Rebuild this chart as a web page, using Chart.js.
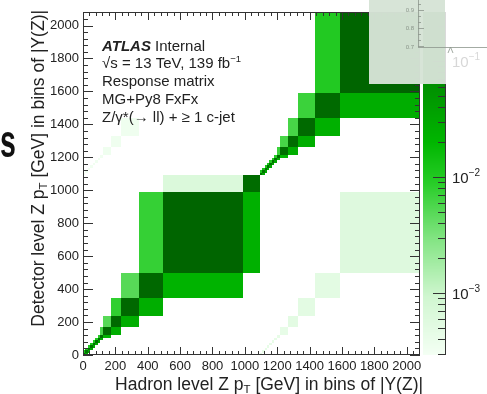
<!DOCTYPE html>
<html>
<head>
<meta charset="utf-8">
<script src="https://cdn.jsdelivr.net/npm/chart.js@4.4.0/dist/chart.umd.min.js"></script>
<style>
  body { margin: 0; background: #fff; }
</style>
</head>
<body>
<canvas id="myChart" width="487" height="394"></canvas>
<script>
var FONT = "'Liberation Sans', Arial, sans-serif";

// pT bin edges, one block per |Y(Z)| bin, laid out along both axes
var binEdges = [0, 15, 30, 45, 60, 75, 90, 105, 122, 172, 237, 344, 496, 990, 1092,
                1107, 1122, 1137, 1152, 1167, 1182, 1197, 1214, 1264, 1329, 1436, 1588, 2082];

// response matrix cells: hadron bin (x), detector bin (y), fraction (z)
var cellX = [
  // diagonal
  0, 1, 2, 3, 4, 5, 6, 7, 8, 9, 10, 11, 12, 13, 14, 15, 16, 17, 18, 19, 20, 21, 22, 23, 24, 25, 26,
  // reco one bin higher
  0, 1, 2, 3, 4, 5, 6, 7, 8, 9, 10, 11, 12, 14, 15, 16, 17, 18, 19, 20, 21, 22, 23, 24, 25,
  // reco one bin lower
  1, 2, 3, 4, 5, 6, 7, 8, 9, 10, 11, 12, 13, 15, 16, 17, 18, 19, 20, 21, 22, 23, 24, 25, 26,
  // migrations between |Y(Z)| bins
  14, 15, 16, 17, 18, 19, 20, 21, 22, 23, 24, 25, 26,
  0, 1, 2, 3, 4, 5, 6, 7, 8, 9, 10
];
var cellY = [
  0, 1, 2, 3, 4, 5, 6, 7, 8, 9, 10, 11, 12, 13, 14, 15, 16, 17, 18, 19, 20, 21, 22, 23, 24, 25, 26,
  1, 2, 3, 4, 5, 6, 7, 8, 9, 10, 11, 12, 13, 15, 16, 17, 18, 19, 20, 21, 22, 23, 24, 25, 26,
  0, 1, 2, 3, 4, 5, 6, 7, 8, 9, 10, 11, 12, 14, 15, 16, 17, 18, 19, 20, 21, 22, 23, 24, 25,
  0, 1, 2, 3, 4, 5, 6, 7, 8, 9, 10, 11, 12,
  14, 15, 16, 17, 18, 19, 20, 21, 22, 23, 24
];
var cellZ = [
  0.14, 0.14, 0.15, 0.15, 0.15, 0.16, 0.16, 0.17, 0.18, 0.19, 0.20, 0.20, 0.22, 0.18,
  0.14, 0.14, 0.15, 0.15, 0.15, 0.16, 0.16, 0.17, 0.17, 0.18, 0.19, 0.19, 0.22,
  0.012, 0.012, 0.011, 0.011, 0.010, 0.010, 0.009, 0.006, 0.005, 0.008, 0.005, 0.0075, 0.00065,
  0.012, 0.012, 0.011, 0.011, 0.010, 0.010, 0.009, 0.007, 0.006, 0.006, 0.007, 0.010,
  0.03, 0.03, 0.03, 0.03, 0.03, 0.03, 0.028, 0.02, 0.025, 0.025, 0.025, 0.022, 0.024,
  0.03, 0.03, 0.03, 0.03, 0.03, 0.03, 0.028, 0.02, 0.025, 0.025, 0.024, 0.026,
  0.00045, 0.00045, 0.00045, 0.00045, 0.00045, 0.00045, 0.00045, 0.00045, 0.00045, 0.0005, 0.0005, 0.0005, 0.0006,
  0.00032, 0.00032, 0.00032, 0.00032, 0.00032, 0.00032, 0.00032, 0.00032, 0.00034, 0.00034, 0.00034
];

var xTickLabels = ['0', '200', '400', '600', '800', '1000', '1200', '1400', '1600', '1800', '2000'];
var zRange = [2.92e-4, 0.264];
var zDecades = [1e-3, 1e-2, 1e-1];
var zDecadeExp = ['-3', '-2', '-1'];

var infoLines = ['Response matrix', 'MG+Py8 FxFx', 'Z/\u03b3*(\u2192 ll) + \u2265 1 c-jet'];

// white -> green -> dark green palette
var palette = [
  [0.00, [244, 255, 244]],
  [0.17, [208, 246, 208]],
  [0.34, [130, 228, 130]],
  [0.50, [40, 205, 40]],
  [0.62, [0, 182, 0]],
  [0.80, [0, 140, 0]],
  [1.00, [0, 95, 0]]
];

function zColor(v) {
  var lo = Math.log10(zRange[0]), hi = Math.log10(zRange[1]);
  var t = (Math.log10(v) - lo) / (hi - lo);
  t = Math.max(0, Math.min(1, t));
  for (var i = 1; i < palette.length; i++) {
    if (t <= palette[i][0]) {
      var a = palette[i - 1], b = palette[i];
      var f = (t - a[0]) / (b[0] - a[0]);
      var c = [0, 1, 2].map(function (k) { return Math.round(a[1][k] + f * (b[1][k] - a[1][k])); });
      return 'rgb(' + c.join(',') + ')';
    }
  }
  return 'rgb(0,95,0)';
}

// draw text made of pieces (for sub/superscripts)
function richText(ctx, parts, x, y, align) {
  var total = 0;
  parts.forEach(function (p) {
    ctx.font = (p[3] || '') + ' ' + p[1] + 'px ' + FONT;
    total += ctx.measureText(p[0]).width;
  });
  var cx = align === 'right' ? x - total : x;
  parts.forEach(function (p) {
    ctx.font = (p[3] || '') + ' ' + p[1] + 'px ' + FONT;
    ctx.fillText(p[0], cx, y + (p[2] || 0));
    cx += ctx.measureText(p[0]).width;
  });
}

var matrixPlugin = {
  id: 'matrix',
  beforeDatasetsDraw: function (chart) {
    var ctx = chart.ctx, xs = chart.scales.x, ys = chart.scales.y;
    ctx.save();
    for (var k = 0; k < cellZ.length; k++) {
      var x0 = Math.round(xs.getPixelForValue(binEdges[cellX[k]]));
      var x1 = Math.round(xs.getPixelForValue(binEdges[cellX[k] + 1]));
      var y0 = Math.round(ys.getPixelForValue(binEdges[cellY[k] + 1]));
      var y1 = Math.round(ys.getPixelForValue(binEdges[cellY[k]]));
      ctx.fillStyle = zColor(cellZ[k]);
      ctx.fillRect(x0, y0, x1 - x0, y1 - y0);
    }
    ctx.restore();
  },
  afterDraw: function (chart) {
    var ctx = chart.ctx, a = chart.chartArea;
    var xs = chart.scales.x, ys = chart.scales.y, zs = chart.scales.z;
    ctx.save();

    // frame and inward ticks
    ctx.strokeStyle = '#333';
    ctx.lineWidth = 1;
    ctx.strokeRect(a.left + 0.5, a.top + 0.5, a.right - a.left - 1, a.bottom - a.top - 1);
    ctx.beginPath();
    xs.ticks.forEach(function (t) {
      if (t.value % 40 !== 0) return;
      var len = t.value % 200 === 0 ? 8 : 4;
      var px = Math.round(xs.getPixelForValue(t.value)) + 0.5;
      ctx.moveTo(px, a.bottom); ctx.lineTo(px, a.bottom - len);
      ctx.moveTo(px, a.top); ctx.lineTo(px, a.top + len);
    });
    ys.ticks.forEach(function (t) {
      if (t.value % 40 !== 0) return;
      var len = t.value % 200 === 0 ? 10 : 5;
      var py = Math.round(ys.getPixelForValue(t.value)) + 0.5;
      ctx.moveTo(a.left, py); ctx.lineTo(a.left + len, py);
      ctx.moveTo(a.right, py); ctx.lineTo(a.right - len, py);
    });
    ctx.stroke();

    // colour bar
    var bx0 = zs.left + 3, bx1 = zs.left + 25;
    for (var py = Math.floor(a.top); py < a.bottom; py++) {
      ctx.fillStyle = zColor(zs.getValueForPixel(py + 0.5));
      ctx.fillRect(bx0, py, bx1 - bx0, 1);
    }
    ctx.beginPath();
    ctx.moveTo(bx1 + 0.5, a.top); ctx.lineTo(bx1 + 0.5, a.bottom);
    for (var e = -4; e <= 0; e++) {
      for (var m = 1; m <= 9; m++) {
        var v = m * Math.pow(10, e);
        if (v < zRange[0] || v > zRange[1]) continue;
        var ty = Math.round(zs.getPixelForValue(v)) + 0.5;
        ctx.moveTo(bx1, ty); ctx.lineTo(bx1 - (m === 1 ? 12 : 7), ty);
      }
    }
    ctx.stroke();
    ctx.fillStyle = '#222';
    ctx.textBaseline = 'alphabetic';
    ctx.textAlign = 'left';
    zDecades.forEach(function (d, i) {
      var ty = zs.getPixelForValue(d);
      richText(ctx, [['10', 15, 0], ['\u2212' + zDecadeExp[i].slice(1), 10, -7]], bx1 + 7, ty + 6, 'left');
    });

    // axis titles
    ctx.fillStyle = '#222';
    richText(ctx, [['Hadron level Z p', 17.5, 0], ['T', 11.5, 3], [' [GeV] in bins of |Y(Z)|', 17.5, 0]],
      a.right + 3, 390, 'right');
    ctx.save();
    ctx.translate(44, 10);
    ctx.rotate(-Math.PI / 2);
    richText(ctx, [['Detector level Z p', 17.5, 0], ['T', 11.5, 3], [' [GeV] in bins of |Y(Z)|', 17.5, 0]],
      0, 0, 'right');
    ctx.restore();

    // ATLAS label block
    var tx = a.left + 19;
    richText(ctx, [['ATLAS', 15, 0, 'italic bold'], [' Internal', 15, 0]], tx, 51);
    richText(ctx, [['\u221as = 13 TeV, 139 fb', 15, 0], ['\u22121', 9.5, -6]], tx, 68);
    infoLines.forEach(function (s, i) {
      richText(ctx, [[s, 15, 0]], tx, 86 + i * 18);
    });

    // cropped slide letter on the left
    ctx.save();
    ctx.scale(0.62, 1);
    ctx.font = 'bold 46px ' + FONT;
    ctx.fillStyle = '#111';
    ctx.fillText('s', 0, 157);
    ctx.restore();

    // overlapping inset from the slide (top right)
    ctx.fillStyle = 'rgba(255,255,255,0.82)';
    ctx.fillRect(445, 0, 42, 84);
    ctx.fillStyle = 'rgba(214,227,214,0.97)';
    ctx.fillRect(369, 0, 76, 84);
    ctx.strokeStyle = 'rgba(140,150,140,0.8)';
    ctx.beginPath();
    ctx.moveTo(418.5, 0); ctx.lineTo(418.5, 47);
    ctx.moveTo(418, 47.5); ctx.lineTo(487, 47.5);
    [4, 10, 16, 22, 28, 34, 40, 46].forEach(function (ty) {
      ctx.moveTo(418, ty + 0.5); ctx.lineTo(ty % 18 === 10 ? 424 : 421, ty + 0.5);
    });
    ctx.moveTo(450.5, 47); ctx.lineTo(448, 53); ctx.moveTo(450.5, 47); ctx.lineTo(453, 53);
    ctx.stroke();
    ctx.fillStyle = 'rgba(120,130,120,0.8)';
    ctx.font = '6px ' + FONT;
    ctx.textAlign = 'right';
    ctx.fillText('0.9', 414, 12);
    ctx.fillText('0.8', 414, 30);
    ctx.fillText('0.7', 414, 49);
    ctx.restore();
  }
};

var ctx = document.getElementById('myChart').getContext('2d');
var axisTicks = {
  stepSize: 40,
  autoSkip: false,
  maxRotation: 0,
  padding: 4,
  color: '#222',
  font: { family: FONT, size: 13 },
  callback: function (v) { return xTickLabels.indexOf(String(v)) >= 0 ? String(v) : ''; }
};

var myChart = new Chart(ctx, {
  type: 'scatter',
  data: {
    datasets: [{
      label: 'Response matrix',
      data: cellZ.map(function (z, k) {
        return {
          x: (binEdges[cellX[k]] + binEdges[cellX[k] + 1]) / 2,
          y: (binEdges[cellY[k]] + binEdges[cellY[k] + 1]) / 2,
          z: z
        };
      }),
      pointRadius: 0,
      pointHoverRadius: 0
    }]
  },
  options: {
    responsive: false,
    animation: false,
    layout: { padding: { top: 12, left: 0, right: 0, bottom: 0 } },
    plugins: { legend: { display: false }, tooltip: { enabled: false } },
    scales: {
      x: {
        type: 'linear', min: 0, max: 2082,
        grid: { display: false, drawTicks: false },
        border: { display: false },
        ticks: axisTicks,
        afterFit: function (s) { s.height = 39; }
      },
      y: {
        type: 'linear', min: 0, max: 2082,
        grid: { display: false, drawTicks: false },
        border: { display: false },
        ticks: axisTicks,
        afterFit: function (s) { s.width = 83; }
      },
      z: {
        axis: 'y', type: 'logarithmic', position: 'right',
        min: zRange[0], max: zRange[1],
        grid: { display: false, drawTicks: false },
        border: { display: false },
        ticks: { display: false },
        afterFit: function (s) { s.width = 67; }
      }
    }
  },
  plugins: [matrixPlugin]
});
</script>
</body>
</html>
